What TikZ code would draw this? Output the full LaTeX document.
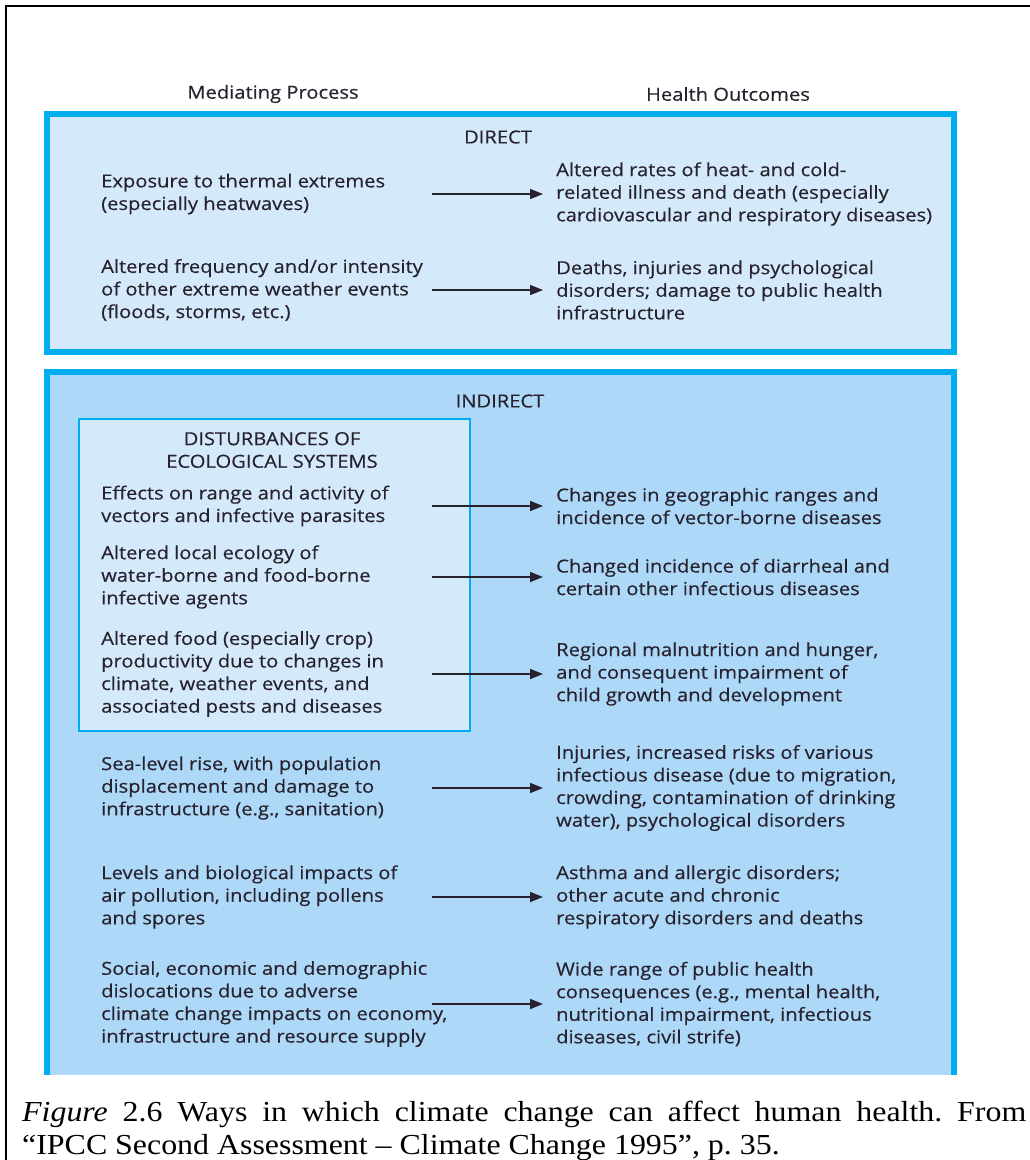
\documentclass[tikz,border=0pt]{standalone}
\usepackage{fontspec}
\setmainfont{Liberation Serif}[FakeStretch=1.1]
\newfontfamily\figfont{Open Sans}[FakeStretch=1.12,FakeBold=0.4]
\usetikzlibrary{arrows.meta,positioning}
\definecolor{frameblue}{RGB}{0,174,239}
\definecolor{directfill}{RGB}{212,234,251}
\definecolor{indirectfill}{RGB}{173,216,247}
\definecolor{inktext}{RGB}{40,34,46}
\frenchspacing

\begin{document}
\begin{tikzpicture}[x=1pt,y=-1pt,
    every node/.style = {font=\figfont\fontsize{18}{22.6}\selectfont,
    text=inktext, inner sep=0pt},
    cause/.style = {anchor=west, align=left},
    outcome/.style = {anchor=west, align=left},
    heading/.style = {align=center},
    leads/.style = {-{Triangle[length=13pt,width=10pt]}, line width=1.7pt,
    draw=inktext, shorten >=13pt},
    panel/.style = {draw=frameblue, line width=5.5pt},
    ]

  \useasboundingbox (0,0) rectangle (1030,1160);
  \draw[line width=2.5pt] (6,1175) -- (6,6) -- (1045,6);

  % the two panels and the inner box
  \fill[directfill] (47,114) rectangle (954,352);
  \draw[panel] (47,114) rectangle (954,352);
  \fill[indirectfill] (47,372) rectangle (954,1075);
  \draw[panel] (47,1075) -- (47,372) -- (954,372) -- (954,1075);
  \draw[draw=frameblue, line width=2pt, fill=directfill] (79,419) rectangle (470,731);

  \node[heading] (medproc) at (273,94) {Mediating Process};
  \node[heading] (healthout) at (728,94) {Health Outcomes};
  \node[heading] (direct) at (498,137) {DIRECT};
  \node[heading] (indirect) at (500,401) {INDIRECT};
  \node[heading] (ecosys) at (272,450) {DISTURBANCES OF\\ECOLOGICAL SYSTEMS};

  \node[cause] (cd1) at (101,194) {Exposure to thermal extremes\\(especially heatwaves)};
  \node[outcome] (od1) at (556,194) {Altered rates of heat- and cold-\\related illness and death (especially\\cardiovascular and respiratory diseases)};
  \node[cause] (cd2) at (101,290) {Altered frequency and/or intensity\\of other extreme weather events\\(floods, storms, etc.)};
  \node[outcome] (od2) at (556,290) {Deaths, injuries and psychological\\disorders; damage to public health\\infrastructure};

  \node[cause] (ci1) at (101,506) {Effects on range and activity of\\vectors and infective parasites};
  \node[outcome] (oi1) at (556,506) {Changes in geographic ranges and\\incidence of vector-borne diseases};
  \node[cause] (ci2) at (101,577) {Altered local ecology of\\water-borne and food-borne\\infective agents};
  \node[outcome] (oi2) at (556,577) {Changed incidence of diarrheal and\\certain other infectious diseases};
  \node[cause] (ci3) at (101,674) {Altered food (especially crop)\\productivity due to changes in\\climate, weather events, and\\associated pests and diseases};
  \node[outcome] (oi3) at (556,674) {Regional malnutrition and hunger,\\and consequent impairment of\\child growth and development};
  \node[cause] (ci4) at (101,788) {Sea-level rise, with population\\displacement and damage to\\infrastructure (e.g., sanitation)};
  \node[outcome] (oi4) at (556,788) {Injuries, increased risks of various\\infectious disease (due to migration,\\crowding, contamination of drinking\\water), psychological disorders};
  \node[cause] (ci5) at (101,897) {Levels and biological impacts of\\air pollution, including pollens\\and spores};
  \node[outcome] (oi5) at (556,897) {Asthma and allergic disorders;\\other acute and chronic\\respiratory disorders and deaths};
  \node[cause] (ci6) at (101,1004) {Social, economic and demographic\\dislocations due to adverse\\climate change impacts on economy,\\infrastructure and resource supply};
  \node[outcome] (oi6) at (556,1004) {Wide range of public health\\consequences (e.g., mental health,\\nutritional impairment, infectious\\diseases, civil strife)};

  \foreach \row in {d1,d2,i1,i2,i3,i4,i5,i6}
    \draw[leads] ([xshift=331pt]c\row.west) -- (c\row.west -| o\row.west);

  \node[anchor=north west, text width=1004pt, align=justify, text=black,
    font=\rmfamily\fontsize{29}{33}\selectfont] (caption) at (22,1101)
    {\textit{Figure} 2.6 Ways in which climate change can affect human health. From\linebreak
     “IPCC Second Assessment -- Climate Change 1995”, p.~35.};
\end{tikzpicture}
\end{document}
